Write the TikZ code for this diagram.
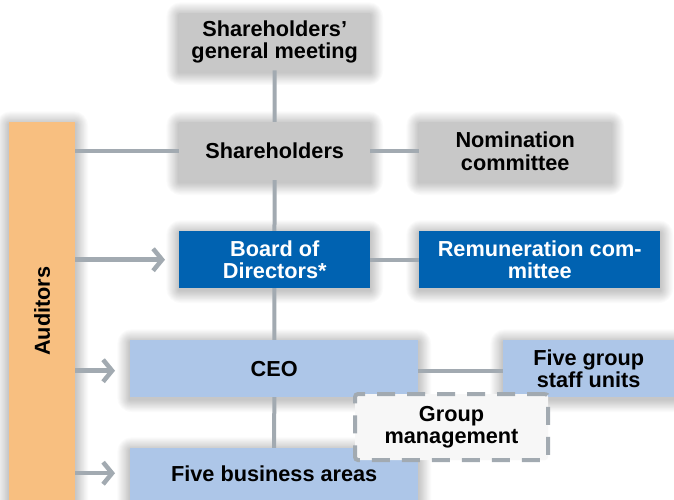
\documentclass[tikz,border=0pt]{standalone}
\usepackage{fontspec}
\setmainfont{Liberation Sans}
\usetikzlibrary{arrows.meta}
\definecolor{boxgray}{HTML}{C8C8C8}
\definecolor{boardblue}{HTML}{0062B1}
\definecolor{lightblue}{HTML}{ADC6E8}
\definecolor{auditorange}{HTML}{F8BF80}
\definecolor{linegray}{HTML}{A2AAB1}
\pgfdeclarelayer{paper}
\pgfdeclarelayer{glow}
\pgfdeclarelayer{wires}
\pgfsetlayers{paper,glow,wires,main}
\tikzset{
  orgbox/.style={anchor=north west, inner sep=0pt, align=center,
    font=\fontsize{21.7}{22.5}\selectfont\bfseries},
  graybox/.style={orgbox, fill=boxgray, text=black},
  bluebox/.style={orgbox, fill=boardblue, text=white},
  paleblue/.style={orgbox, fill=lightblue, text=black},
  link/.style={draw=linegray, line width=4pt},
  feed/.style={draw=linegray, line width=4.5pt,
    -{Straight Barb[length=9pt, width=22pt]}},
}
% soft shadow around a named box
\newcommand{\softglow}[1]{%
  \begin{pgfonlayer}{glow}
    \foreach \k in {1,...,14}
      \fill[black, opacity=0.016, rounded corners=\k pt]
        ([xshift=-\k*0.9pt, yshift=\k*0.9pt-2pt]#1.north west) rectangle
        ([xshift=\k*0.9pt, yshift=-\k*0.9pt-2pt]#1.south east);
  \end{pgfonlayer}}
\begin{document}
\begin{tikzpicture}[x=1pt,y=-1pt]
\useasboundingbox (0,0) rectangle (674,500);
\begin{pgfonlayer}{paper}
\fill[white] (0,0) rectangle (674,500);
\end{pgfonlayer}

% boxes
\node[graybox, minimum width=191pt, minimum height=57pt] (agm) at (179,13) {Shareholders'\\general meeting};
\node[graybox, minimum width=191pt, minimum height=58pt] (sh) at (179,122) {Shareholders};
\node[graybox, minimum width=192pt, minimum height=58pt] (nom) at (419,122) {Nomination\\committee};
\node[bluebox, minimum width=191pt, minimum height=57pt] (board) at (179,231) {Board of\\Directors*};
\node[bluebox, minimum width=241pt, minimum height=57pt] (rem) at (419,231) {Remuneration com-\\mittee};
\node[paleblue, minimum width=288pt, minimum height=57pt] (ceo) at (130,340) {CEO};
\node[paleblue, minimum width=171pt, minimum height=57pt] (staff) at (503,340) {Five group\\staff units};
\node[paleblue, minimum width=288pt, minimum height=52pt] (ba) at (130,448) {Five business areas};
\node[orgbox, fill=auditorange, minimum width=66pt, minimum height=378pt] (aud) at (9,122) {};
\node[rotate=90, font=\fontsize{21.7}{22.5}\selectfont\bfseries] (audtext) at (aud.center) {Auditors};

\foreach \n in {agm,sh,nom,board,rem,ceo,staff,ba,aud} {\softglow{\n}}

% connectors, behind the boxes
\begin{pgfonlayer}{wires}
\path[link] (agm.south) -- (ba.north);
\path[link] (aud.east |- sh.west) -- (sh.west);
\path[link] (sh.east) -- (nom.west);
\path[link] (board.east) -- (rem.west);
\path[link] ([yshift=-2pt]ceo.east) -- ([yshift=-2pt]staff.west);
\end{pgfonlayer}

% arrows from the auditors
\path[feed] (aud.east |- board.west) -- ([xshift=-14pt]board.west);
\path[feed] ([yshift=-2pt]aud.east |- ceo.west) -- ([xshift=-15pt,yshift=-2pt]ceo.west);
\path[feed] ([yshift=1pt]aud.east |- ba.west) -- ([xshift=-15pt,yshift=1pt]ba.west);

% group management
\node[anchor=north west, minimum width=193pt, minimum height=66pt, inner sep=0pt,
  fill=white!97!black, draw=linegray, line width=4pt, rounded corners=3pt,
  dash pattern=on 18pt off 12pt, align=center,
  font=\fontsize{21.7}{22.5}\selectfont\bfseries] (gm) at (353,392) {Group\\management};
\end{tikzpicture}
\end{document}
